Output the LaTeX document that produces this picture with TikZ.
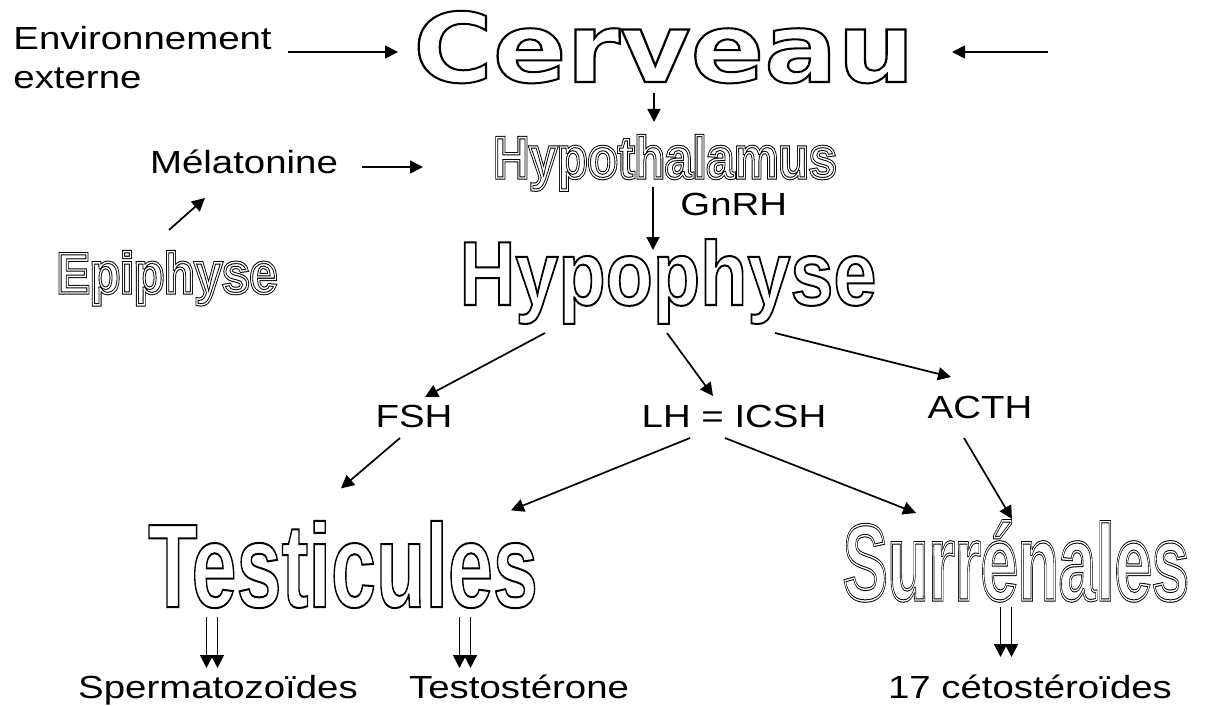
\documentclass[tikz,border=0pt]{standalone}
\usepackage{fontspec}
\setmainfont{Liberation Sans}[FakeStretch=1.2]
\newfontfamily\heavy{DejaVu Sans}
\newfontfamily\cond{Liberation Sans}
\usepackage{graphicx}
\usetikzlibrary{calc,arrows.meta,positioning}
\tikzset{
  ar/.style={-{Triangle[length=6.5pt,width=6.5pt]},line width=0.85pt},
  lbl/.style={inner sep=0pt,anchor=base,font=\fontsize{16}{19.5}\selectfont},
  big/.style={inner sep=0pt,anchor=base}
}
% texte evide (contour seul)
\newcommand{\hollow}[1]{\special{pdf:literal direct 1 w 1 Tr}#1\special{pdf:literal direct 0 Tr}}
\newcommand{\hollowdbl}[1]{\rlap{\special{pdf:literal direct 1.7 w 1 Tr}#1\special{pdf:literal direct 0 Tr}}{\color{white}\special{pdf:literal direct 0.7 w 1 Tr}#1\special{pdf:literal direct 0 Tr}}}
\newcommand{\twin}[2]{\foreach \o in {-5.5,5.5}{\draw[ar] ($(#1)+(\o,0)$) -- ($(#2)+(\o,0)$);}}
\begin{document}
\begin{tikzpicture}[x=0.5pt,y=-0.5pt]
\useasboundingbox (0,0) rectangle (1210,706);
% organes
\node[big] (cerv) at (664,82) {\scalebox{1.13}[1]{\heavy\bfseries\fontsize{48}{48}\selectfont\hollow{Cerveau}}};
\node[big] (hyt) at (665,178) {\scalebox{0.85}[1]{\cond\bfseries\fontsize{29.3}{30}\selectfont\hollowdbl{Hypothalamus}}};
\node[big] (epi) at (167,293) {\scalebox{0.87}[1]{\cond\bfseries\fontsize{28.5}{30}\selectfont\hollowdbl{Epiphyse}}};
\node[big] (hypo) at (668,305) {\scalebox{0.85}[1]{\cond\bfseries\fontsize{45.5}{46}\selectfont\hollow{Hypophyse}}};
\node[big] (testi) at (343,607) {\scalebox{0.68}[1]{\cond\bfseries\fontsize{59.5}{60}\selectfont\hollow{Testicules}}};
\node[big] (surr) at (1016,600) {\scalebox{0.62}[1]{\cond\bfseries\fontsize{54}{55}\selectfont\hollowdbl{Surrénales}}};
% textes
\node[lbl,anchor=north west,align=left] (env) at (13,26) {Environnement\\externe};
\node[lbl] (mel) at (244,173) {Mélatonine};
\node[lbl,anchor=base west] (gnrh) at (680,215) {GnRH};
\node[lbl] (fsh) at (414,427) {FSH};
\node[lbl] (lh) at (734,427) {LH = ICSH};
\node[lbl] (acth) at (980,418) {ACTH};
\node[lbl] (spz) at (218,698) {Spermatozoïdes};
\node[lbl] (tst) at (519,698) {Testostérone};
\node[lbl] (ceto) at (1030,698) {17 cétostéroïdes};
\coordinate (rin) at (1048,52);
\coordinate (melend) at (423,167);
% fleches
\draw[ar] ($(env.north east)+(16,26)$) -- ($(cerv.base)+(-266,-30)$);
\draw[ar] (rin) -- ($(cerv.base)+(288,-30)$);
\draw[ar] ($(cerv.base)+(-10,11)$) -- ($(hyt.base)+(-11,-56)$);
\draw[ar] ($(mel.base)+(118,-6)$) -- (melend);
\draw[ar] ($(epi.base)+(2,-63)$) -- ($(mel.base)+(-39,25)$);
\draw[ar] ($(hyt.base)+(-12,9)$) -- ($(hypo.base)+(-15,-55)$);
\draw[ar] ($(hypo.base)+(-123,28)$) -- ($(fsh.base)+(11,-30)$);
\draw[ar] ($(hypo.base)+(-1,28)$) -- ($(lh.base)+(-21,-31)$);
\draw[ar] ($(hypo.base)+(107,28)$) -- ($(acth.base)+(-29,-41)$);
\draw[ar] ($(fsh.base)+(-14,11)$) -- ($(testi.north)+(-2,-32)$);
\draw[ar] ($(lh.base)+(-44,11)$) -- ($(testi.north)+(168,-10)$);
\draw[ar] ($(lh.base)+(-9,11)$) -- ($(surr.base)+(-100,-87)$);
\draw[ar] ($(acth.base)+(-16,20)$) -- ($(surr.base)+(-4,-81)$);
\coordinate (d1a) at ($(testi.base)+(-131,10)$);
\coordinate (d1b) at ($(testi.base)+(-131,61)$);
\coordinate (d2a) at ($(testi.base)+(122,10)$);
\coordinate (d2b) at ($(testi.base)+(122,61)$);
\coordinate (d3a) at ($(surr.base)+(-10,7)$);
\coordinate (d3b) at ($(surr.base)+(-10,57)$);
\twin{d1a}{d1b}
\twin{d2a}{d2b}
\twin{d3a}{d3b}
\end{tikzpicture}
\end{document}
